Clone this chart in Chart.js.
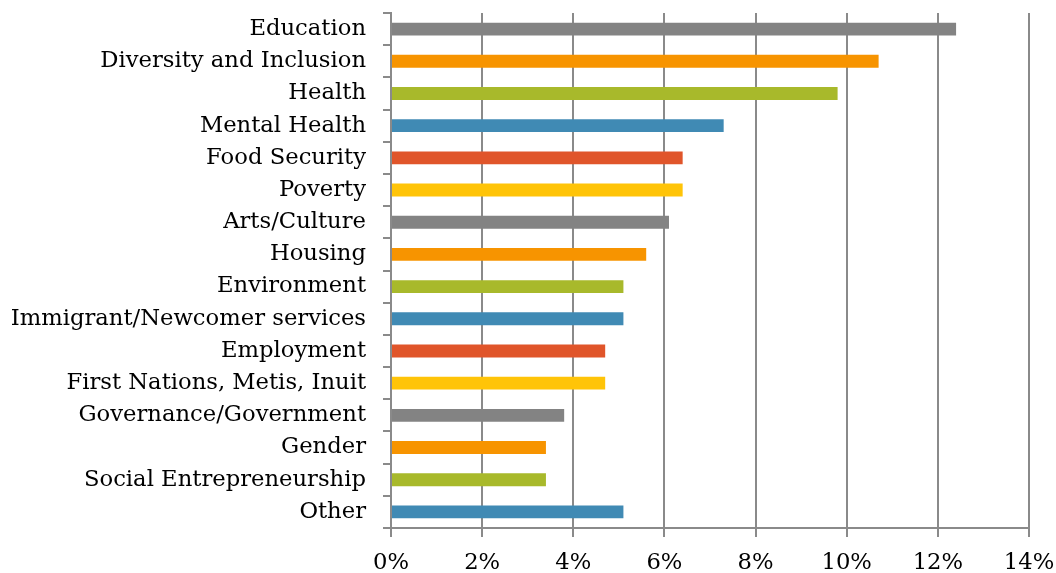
<!DOCTYPE html>
<html>
<head>
<meta charset="utf-8">
<script src="https://cdn.jsdelivr.net/npm/chart.js@4/dist/chart.umd.min.js"></script>
<style>
  html, body { margin: 0; padding: 0; background: #fff; }
  #wrap { width: 1056px; height: 573px; }
</style>
</head>
<body>
<div id="wrap"><canvas id="focusChart" width="1056" height="573"></canvas></div>
<script>
const categories = [
  "Education", "Diversity and Inclusion", "Health", "Mental Health",
  "Food Security", "Poverty", "Arts/Culture", "Housing", "Environment",
  "Immigrant/Newcomer services", "Employment", "First Nations, Metis, Inuit",
  "Governance/Government", "Gender", "Social Entrepreneurship", "Other"
];
const shares = [12.4, 10.7, 9.8, 7.3, 6.4, 6.4, 6.1, 5.6, 5.1, 5.1, 4.7, 4.7, 3.8, 3.4, 3.4, 5.1];
const palette = ["#838383", "#F79400", "#A8B92B", "#408AB4", "#E0552A", "#FFC408"];
const xTicks = [0, 2, 4, 6, 8, 10, 12, 14];

const barColors = categories.map((c, i) => palette[i % palette.length]);
const axisGray = "#8a8a8a";
const font = { family: "DejaVu Serif", size: 22.7 };

// keep the plot box where the reference has it (no auto label padding)
function noPad(axis) {
  axis.paddingTop = 0;
  axis.paddingBottom = 0;
  axis.paddingLeft = 0;
  axis.paddingRight = 0;
}

const ctx = document.getElementById("focusChart").getContext("2d");
const focusChart = new Chart(ctx, {
  type: "bar",
  data: {
    labels: categories,
    datasets: [{
      data: shares,
      backgroundColor: barColors,
      borderWidth: 0,
      categoryPercentage: 0.8,
      barPercentage: 0.5
    }]
  },
  options: {
    indexAxis: "y",
    responsive: false,
    animation: false,
    layout: { padding: { top: 13, right: 27, left: 0, bottom: 0 } },
    plugins: { legend: { display: false }, tooltip: { enabled: false } },
    scales: {
      x: {
        min: 0,
        max: 14,
        afterBuildTicks: axis => { axis.ticks = xTicks.map(v => ({ value: v })); },
        afterFit: axis => { axis.height = 45; noPad(axis); },
        ticks: {
          color: "#000",
          font: font,
          padding: 12,
          callback: v => v + "%"
        },
        grid: { color: axisGray, lineWidth: 2, tickLength: 9 },
        border: { color: axisGray, width: 2 }
      },
      y: {
        afterFit: axis => { axis.width = 391; noPad(axis); },
        ticks: { color: "#000", font: font, padding: 17 },
        grid: { drawOnChartArea: false, color: axisGray, lineWidth: 2, tickLength: 8, offset: true },
        border: { color: axisGray, width: 2 }
      }
    }
  }
});
</script>
</body>
</html>
